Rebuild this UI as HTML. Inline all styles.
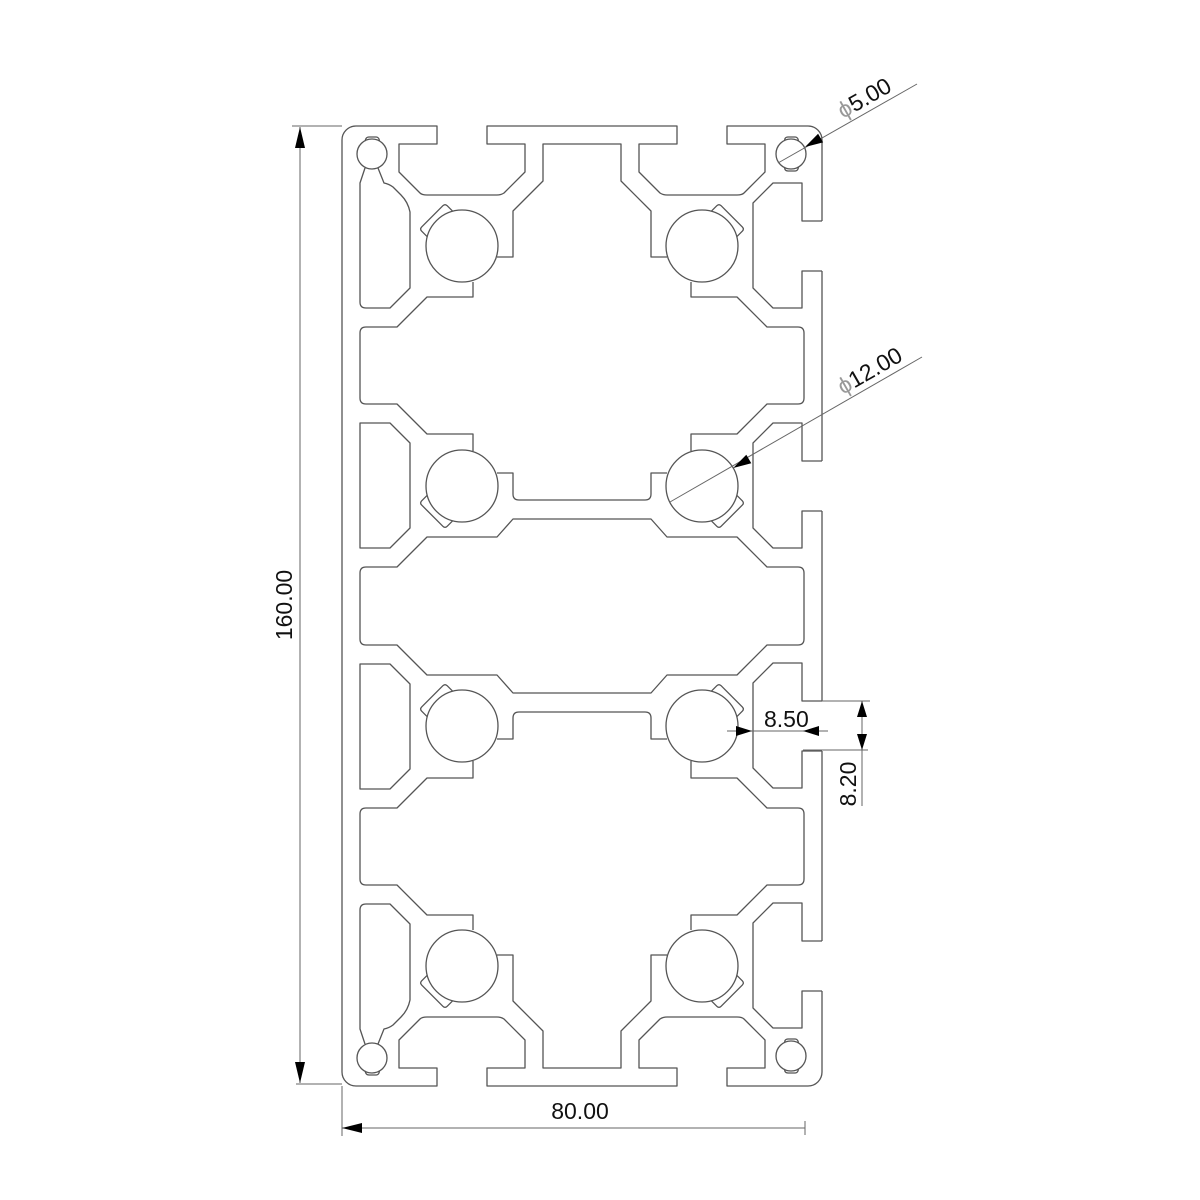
<!DOCTYPE html>
<html><head><meta charset="utf-8"><style>
html,body{margin:0;padding:0;background:#fff;}
svg{display:block;}
text{font-family:"Liberation Sans",sans-serif;fill:#111;}
</style></head><body>
<svg width="1200" height="1200" viewBox="0 0 1200 1200" xmlns="http://www.w3.org/2000/svg">
<defs>
  <g id="core">
    <path d="M342,140 A14,14 0 0 1 356,126 L437,126 L437,144 L399,144 L399,172 L420,193 Q422,195 427,195 L497,195 Q501,195 504,193 L525,172 L525,144 L487,144 L487,126 L582,126"/>
    <path d="M497,257 L513,257 L513,211 L543,181 L543,144 L582,144"/>
    <path d="M473,451 L473,434 L427,434 L397,404 L366,404 Q360,404 360,398 L360,333 Q360,327 366,327 L397,327 L427,297 L473,297 L473,282"/>
    <path d="M497,473 L513,473 L513,494 Q513,500 519,500 L582,500"/>
    <path d="M582,519 L513,519 L497,537 L427,537 L397,567 L366,567 Q360,567 360,573 L360,606"/>
    <circle cx="462" cy="246" r="36"/>
    <circle cx="462" cy="486" r="36"/>
  </g>
  <g id="leftonly">
    <path d="M342,140 L342,606"/>
    <path d="M365,168 L360,183 L360,302 Q360,308 366,308 L390,308 L410,288 L410,212 Q408,202 401,195 L393,187 Q389,184 384,183 L378,168"/>
    <path d="M360,423 L390,423 L410,443 L410,528 L390,548 L360,548 Z"/>
    <circle cx="372" cy="154" r="15"/>
    <path d="M365,141 L366,138.5 Q367,137 369,137 L376,137 Q378,137 379,139 L379.5,141"/>
  </g>
  <g id="rcirc">
    <circle cx="791" cy="154" r="15"/>
    <path d="M784.5,141 L785,138.5 Q786,137 788,137 L795,137 Q797,137 798,139 L798.5,141"/>
    <path d="M784.5,167 L785,169.5 Q786,171 788,171 L795,171 Q797,171 798,169 L798.5,167"/>
  </g>
  <g id="rslot">
    <path d="M822,-25 L802,-25 L802,-63 L773,-63 L753,-43 L753,42 L773,62 L802,62 L802,25 L822,25"/>
  </g>
  <path id="tab" d="M31.2,-18 L39,-18 Q42,-18 42,-15 L42,15 Q42,18 39,18 L31.2,18"/>
</defs>

<g fill="none" stroke="#555" stroke-width="1.3" stroke-linejoin="round">
  <use href="#core"/>
  <use href="#core" transform="matrix(-1,0,0,1,1164,0)"/>
  <use href="#core" transform="matrix(1,0,0,-1,0,1212)"/>
  <use href="#core" transform="matrix(-1,0,0,-1,1164,1212)"/>
  <use href="#leftonly"/>
  <use href="#leftonly" transform="matrix(1,0,0,-1,0,1212)"/>
  <use href="#rcirc"/>
  <use href="#rcirc" transform="matrix(1,0,0,-1,0,1210)"/>
  <path d="M822,140 L822,221 M822,271 L822,461 M822,511 L822,701 M822,751 L822,941 M822,991 L822,1072"/>
  <use href="#rslot" transform="translate(0,246)"/>
  <use href="#rslot" transform="translate(0,486)"/>
  <use href="#rslot" transform="translate(0,726)"/>
  <use href="#rslot" transform="translate(0,966)"/>
  <use href="#tab" transform="translate(462,246) rotate(-135)"/>
  <use href="#tab" transform="translate(702,246) rotate(-45)"/>
  <use href="#tab" transform="translate(462,486) rotate(135)"/>
  <use href="#tab" transform="translate(702,486) rotate(45)"/>
  <use href="#tab" transform="translate(462,726) rotate(-135)"/>
  <use href="#tab" transform="translate(702,726) rotate(-45)"/>
  <use href="#tab" transform="translate(462,966) rotate(135)"/>
  <use href="#tab" transform="translate(702,966) rotate(45)"/>
</g>

<g stroke="#666" stroke-width="1" fill="none">
  <path d="M292,126 L342,126 M296,1084 L342,1084 M300,127 L300,1083"/>
  <path d="M342,1086 L342,1136 M342,1128 L805,1128 M805,1121 L805,1135"/>
  <path d="M778,163 L917,84"/>
  <path d="M670,502 L922,357"/>
  <path d="M727,731 L828,731"/>
  <path d="M822,701 L870,701 M803,750 L868,750 M862,701 L862,806"/>
</g>
<g fill="#000" stroke="none">
  <polygon points="300,127 295,148 305,148"/>
  <polygon points="300,1083 295,1062 305,1062"/>
  <polygon points="342,1128 362,1123 362,1133"/>
  <polygon points="805,147 823.1,142.4 818.1,133.8"/>
  <polygon points="733.2,468 751.3,463.3 746.3,454.7"/>
  <polygon points="752,731 736,726 736,736"/>
  <polygon points="803,731 819,726 819,736"/>
  <polygon points="862,701 857,717 867,717"/>
  <polygon points="862,750 857,734 867,734"/>
</g>
<g font-size="23">
  <text x="0" y="0" text-anchor="middle" transform="translate(292,605) rotate(-90)">160.00</text>
  <text x="580" y="1119" text-anchor="middle">80.00</text>
  <text transform="translate(843,119) rotate(-29.6)"><tspan fill="#999">ϕ</tspan>5.00</text>
  <text transform="translate(843,395) rotate(-29.9)"><tspan fill="#999">ϕ</tspan>12.00</text>
  <text x="764" y="727">8.50</text>
  <text x="0" y="0" text-anchor="middle" transform="translate(856,784) rotate(-90)">8.20</text>
</g>
</svg>
</body></html>
